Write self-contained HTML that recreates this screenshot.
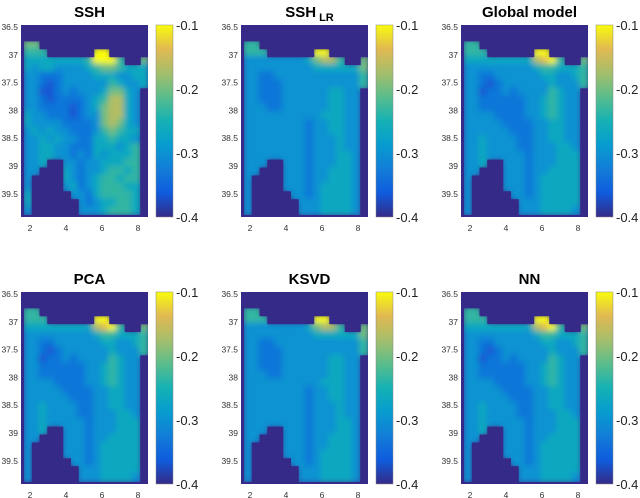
<!DOCTYPE html>
<html><head><meta charset="utf-8">
<style>
body{margin:0;background:#fff;font-family:"Liberation Sans",sans-serif;}
svg{display:block}
</style></head>
<body>
<svg id="fig" width="640" height="498" viewBox="0 0 640 498" xmlns="http://www.w3.org/2000/svg">
<defs>
<filter id="bl" x="-5%" y="-5%" width="110%" height="110%"><feGaussianBlur stdDeviation="3"/></filter>
<linearGradient id="parula" x1="0" y1="1" x2="0" y2="0">
<stop offset="0" stop-color="rgb(53,42,135)"/><stop offset="0.125" stop-color="rgb(15,92,221)"/>
<stop offset="0.25" stop-color="rgb(18,125,216)"/><stop offset="0.375" stop-color="rgb(7,156,207)"/>
<stop offset="0.5" stop-color="rgb(21,177,180)"/><stop offset="0.625" stop-color="rgb(89,189,140)"/>
<stop offset="0.75" stop-color="rgb(165,190,107)"/><stop offset="0.875" stop-color="rgb(225,185,82)"/>
<stop offset="1" stop-color="rgb(249,251,14)"/>
</linearGradient>
</defs>
</svg>
<script>
// Field levels: digit d -> value -0.4 + d*(0.3/9); 'L' = land
const sshField = [
"LLLLLLLLLLLLLLLL","LLLLLLLLLLLLLLLL","66LLLLLLLLLLLLLL","555LLLLLL99LLLLL",
"4444444459995LL6","4344333345665444","3322233334443344","3321233333354334",
"331123233346643L","332122223457743L","332222123467743L","433222123367743L",
"433332222367643L","343433222356544L","334343322445443L","334433222444345L",
"334433232434445L","334LL3323344455L","33LLL4323345545L","3LLLL4323455455L",
"3LLLL3423455544L","4LLLLL332455554L","4LLLLLL32344554L","3LLLLLL33345554L"];
const lrField = [
"LLLLLLLLLLLLLLLL","LLLLLLLLLLLLLLLL","55LLLLLLLLLLLLLL","555LLLLLL99LLLLL",
"3333333346775LL6","3333333334444446","3322333333333335","3322233333333335",
"332223333334433L","332223333334433L","333223333334433L","333333333344433L",
"333333332334433L","333333332334433L","333333332333433L","333333332333433L",
"333333332333443L","333LL3332333443L","33LLL3332334443L","3LLLL3332334443L",
"3LLLL3332344443L","3LLLLL332344443L","3LLLLLL33344443L","3LLLLLL33344443L"];
const recField = [
"LLLLLLLLLLLLLLLL","LLLLLLLLLLLLLLLL","55LLLLLLLLLLLLLL","555LLLLLL99LLLLL",
"4444444447895LL6","3333333334554445","3322333333443345","3321233333343335",
"331223233335433L","332222223345433L","332222223345433L","333322223345433L",
"333332222334433L","333333222334433L","334333322334433L","334333322333443L",
"334333332333444L","334LL3332333444L","33LLL3332334444L","3LLLL3332344444L",
"3LLLL3332344444L","3LLLLL332344444L","3LLLLLL33344444L","3LLLLLL33344443L"];
const panelTitles = ["SSH","SSH_LR","Global model","PCA","KSVD","NN"];
const xTicks = [2,4,6,8];
const yTicks = [36.5,37,37.5,38,38.5,39,39.5];
const cbTicks = ["-0.1","-0.2","-0.3","-0.4"];
const cbValues = [-0.1,-0.2,-0.3,-0.4];

const NS="http://www.w3.org/2000/svg";
const svg=document.getElementById('fig');
const stops=[[53,42,135],[15,92,221],[18,125,216],[7,156,207],[21,177,180],[89,189,140],[165,190,107],[225,185,82],[249,251,14]];
function parula(t){t=Math.max(0,Math.min(1,t));const p=t*8,i=Math.min(7,Math.floor(p)),f=p-i;
 const a=stops[i],b=stops[i+1];return `rgb(${a.map((v,k)=>Math.round(v+(b[k]-v)*f)).join(',')})`;}
function mk(tag,attrs,parent){const e=document.createElementNS(NS,tag);for(const k in attrs)e.setAttribute(k,attrs[k]);(parent||svg).appendChild(e);return e;}
const W=127,H=192,NC=16,NR=24;
const xScale=v=>9+(v-2)*18;
const yScale=v=>2+(v-36.5)*55.6;
const cScale=v=>(v+0.1)/(-0.3)*H;
function cell(f,r,c){const s=(f[r]||"").padEnd(NC,'L');return s[c];}
const fields=[sshField,lrField,recField,recField,lrField,recField];
const LAND='rgb(53,42,135)';
panelTitles.forEach((title,i)=>{
 const col=i%3,row=Math.floor(i/3);
 const px=21+col*220,py=25+row*267;
 const g=mk('g',{transform:`translate(${px},${py})`});
 
 
 const cid='clip'+i;
 const cp=mk('clipPath',{id:cid},g);mk('rect',{x:0,y:0,width:W,height:H},cp);
 mk('rect',{x:0,y:0,width:W,height:H,fill:LAND},g);
 const f=fields[i];
 const cw=(W-3)/NC,ch=(H-2)/NR;
 const sea=mk('g',{filter:'url(#bl)','clip-path':`url(#${cid})`},g);
 const land=mk('g',{'clip-path':`url(#${cid})`},g);
 for(let r=0;r<NR;r++)for(let c=0;c<NC;c++){
  const ch_=cell(f,r,c);
  if(ch_!=='L'){const rc=mk('rect',{x:3+c*cw-1,y:r*ch-1,width:cw+2,height:ch+2,fill:parula(+ch_/9)},sea);
   }
 }
 for(let r=0;r<NR;r++)for(let c=0;c<NC;c++){
  if(cell(f,r,c)==='L'){mk('rect',{x:3+c*cw,y:r*ch,width:cw+0.5,height:ch+0.5,fill:LAND},land);}
 }
 mk('rect',{x:0,y:H-2,width:W,height:2,fill:LAND},g);
 mk('rect',{x:0,y:0,width:3,height:H,fill:LAND},g);
 const t=mk('text',{x:W/2+5,y:-8,'text-anchor':'middle','font-size':15,'font-weight':'bold',fill:'#000'},g);
 
 if(title==='SSH_LR'){t.textContent='SSH';const s=mk('tspan',{'font-size':11,dy:4,dx:3},t);s.textContent='LR';}
 else t.textContent=title;
 xTicks.forEach(v=>{const tx=mk('text',{x:xScale(v),y:H+14,'text-anchor':'middle','font-size':8.5,fill:'#333'},g);
  tx.textContent=v;});
 yTicks.forEach(v=>{const ty=mk('text',{x:-3,y:yScale(v)+3,'text-anchor':'end','font-size':8.5,fill:'#333'},g);
  ty.textContent=v;});
 const cb=mk('rect',{x:135,y:0,width:17,height:H,fill:'url(#parula)',stroke:'#888','stroke-width':0.5},g);
 
 cbValues.forEach((v,k)=>{const ct=mk('text',{x:155,y:cScale(v)+5,'font-size':13,fill:'#222'},g);
  ct.textContent=cbTicks[k];});
});
</script>
</body></html>
